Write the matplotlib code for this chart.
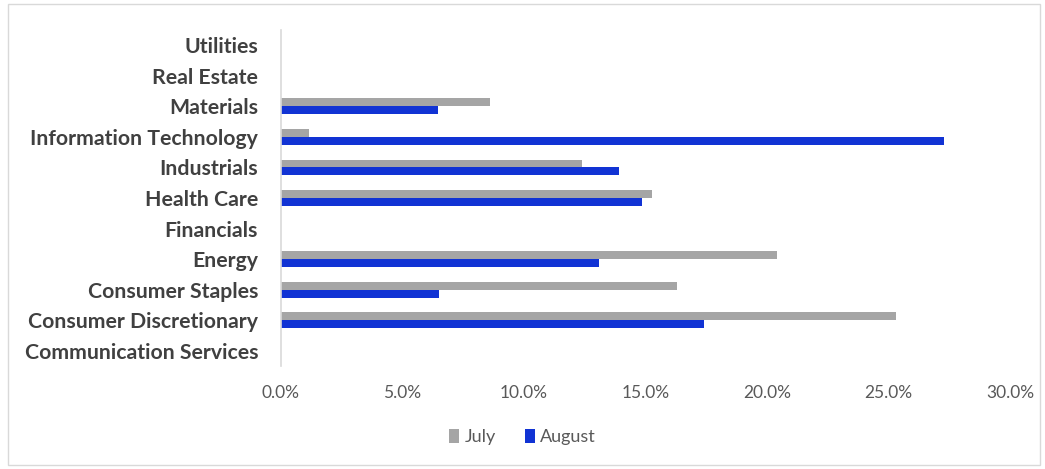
import matplotlib.pyplot as plt
import numpy as np
from matplotlib.patches import Rectangle
from matplotlib.ticker import FuncFormatter

sectors = ["Communication Services", "Consumer Discretionary", "Consumer Staples",
           "Energy", "Financials", "Health Care", "Industrials",
           "Information Technology", "Materials", "Real Estate", "Utilities"]
july = [0.0, 25.3, 16.3, 20.4, 0.0, 15.25, 12.4, 1.15, 8.6, 0.0, 0.0]
august = [0.0, 17.4, 6.5, 13.1, 0.0, 14.85, 13.9, 27.3, 6.45, 0.0, 0.0]

plt.rcParams['font.family'] = ['Lato', 'DejaVu Sans']

fig = plt.figure(figsize=(10.45, 4.69), dpi=100)
ax = fig.add_axes([281 / 1045, 1 - 366 / 469, (1010 - 281) / 1045, (366 - 30) / 469])

y = np.arange(len(sectors))
h = 0.26
ax.barh(y + h / 2, july, height=h, color="#a5a5a5", label="July")
ax.barh(y - h / 2, august, height=h, color="#1133d4", label="August")

ax.set_xlim(0, 30)
ax.set_ylim(-0.5, len(sectors) - 0.5)
ax.set_xticks(np.arange(0, 31, 5))
ax.xaxis.set_major_formatter(FuncFormatter(lambda v, p: f"{v:.1f}%"))
ax.set_yticks(y)
ax.set_yticklabels(sectors, fontweight="bold", fontsize=15.3, color="#404040")
ax.tick_params(axis="x", labelsize=12.5, labelcolor="#595959", length=0, pad=14)
ax.tick_params(axis="y", length=0, pad=16.5)

for s in ["top", "right", "bottom"]:
    ax.spines[s].set_visible(False)
ax.spines["left"].set_color("#d9d9d9")
ax.spines["left"].set_linewidth(1.2)

fig.legend(loc="center", bbox_to_anchor=(0.5, 1 - 437 / 469), ncol=2, frameon=False,
           fontsize=13, labelcolor="#595959", handlelength=0.55, handleheight=0.85,
           handletextpad=0.3, columnspacing=1.6)

fig.patches.append(Rectangle((8 / 1045, 4 / 469), 1032 / 1045, 461 / 469,
                             transform=fig.transFigure, fill=False,
                             edgecolor="#d9d9d9", linewidth=1))

fig.savefig("out.png", dpi=100)
